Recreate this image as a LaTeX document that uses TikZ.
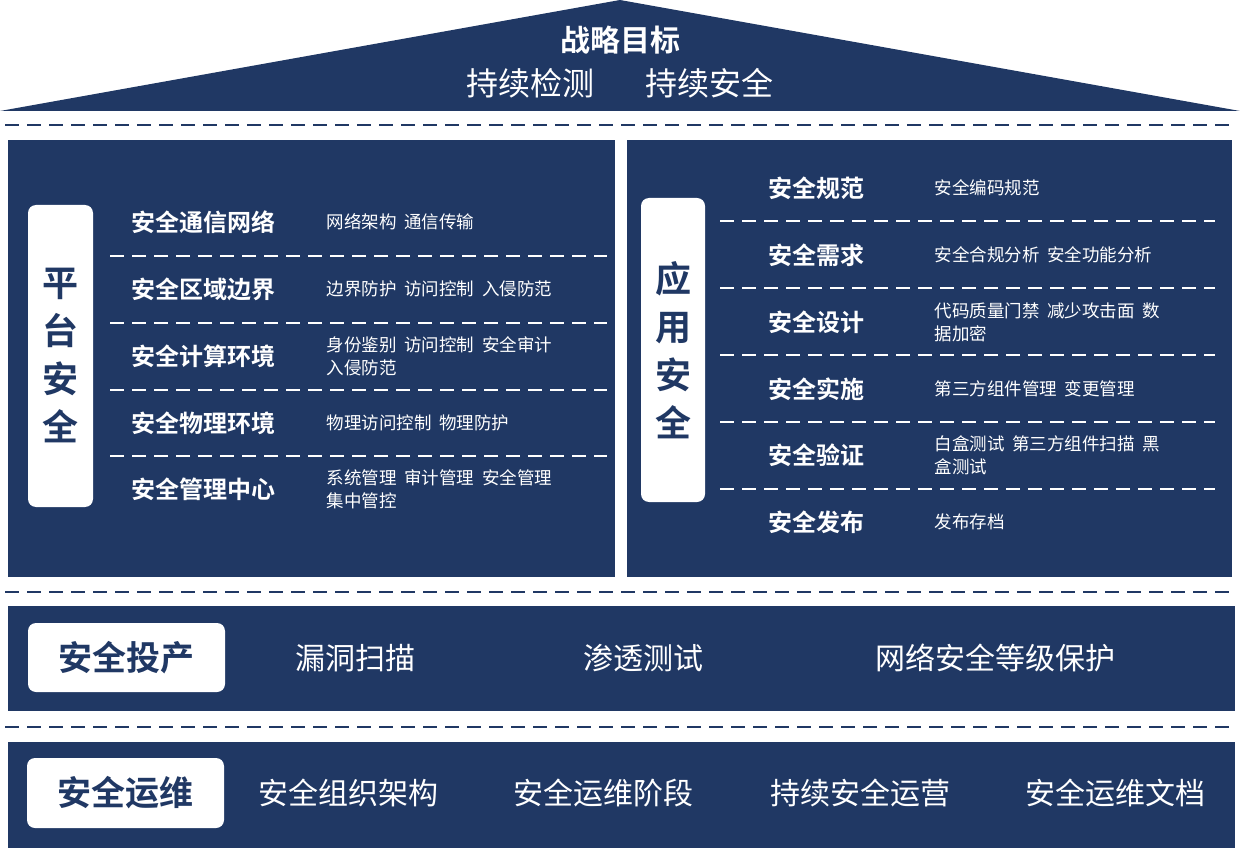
\documentclass[tikz,border=0pt]{standalone}
\usepackage{fontspec}
\setmainfont{Noto Sans CJK SC}[BoldFont={Noto Sans CJK SC Bold}]
\definecolor{navy}{HTML}{203864}
\begin{document}
\begin{tikzpicture}[x=1pt,y=-1pt,
  panel/.style={fill=navy,draw=none},
  lbl/.style={fill=white,rounded corners=8pt,draw=none},
  dsh/.style={line width=2pt,dash pattern=on 14pt off 8pt},
  ttl/.style={anchor=west,text=white,font=\fontsize{24}{28}\selectfont\bfseries},
  det/.style={anchor=west,text=white,align=left,font=\fontsize{17.5}{23}\selectfont},
  big/.style={text=white,font=\fontsize{30}{34}\selectfont},
  vt/.style={text=navy,font=\fontsize{36}{48}\selectfont\bfseries,align=center}]
\useasboundingbox (0,0) rectangle (1240,850);
% roof
\fill[navy] (0,111) -- (620,0) -- (1240,111) -- cycle;
\node[text=white,font=\fontsize{30}{34}\selectfont\bfseries] (goal) at (620,40) {战略目标};
\node[big,font=\fontsize{32}{36}\selectfont] (g2) at (620,83) {持续检测\hspace{1.6em}持续安全};
\coordinate (d1a) at (5,125); \coordinate (d1b) at (1235,125);
\draw[dsh,navy] (d1a) -- (d1b);
% left panel
\fill[panel] (8,140) rectangle (615,577);
\fill[lbl] (28,205) rectangle (93,507);
\node[vt] (pl) at (60.5,356) {平\\台\\安\\全};
\foreach \y/\t/\d in {222/安全通信网络/{网络架构\ \ 通信传输},
  289/安全区域边界/{边界防护\ \ 访问控制\ \ 入侵防范},
  356/安全计算环境/{身份鉴别\ \ 访问控制\ \ 安全审计\\入侵防范},
  423/安全物理环境/{物理访问控制\ \ 物理防护},
  489/安全管理中心/{系统管理\ \ 审计管理\ \ 安全管理\\集中管控}}{
  \node[ttl] (lt\y) at (128,\y) {\t};
  \node[det] (ld\y) at (323,\y) {\d};}
\foreach \y in {256,323,390,456}{
  \coordinate (la\y) at (110,\y); \coordinate (lb\y) at (607,\y);
  \draw[dsh,white] (la\y) -- (lb\y);}
% right panel
\fill[panel] (627,140) rectangle (1232,577);
\fill[lbl] (641,198) rectangle (705,502);
\node[vt] (pr) at (673,350) {应\\用\\安\\全};
\foreach \y/\t/\d in {188/安全规范/{安全编码规范},
  255/安全需求/{安全合规分析\ \ 安全功能分析},
  322/安全设计/{代码质量门禁\ \ 减少攻击面\ \ 数\\据加密},
  389/安全实施/{第三方组件管理\ \ 变更管理},
  455/安全验证/{白盒测试\ \ 第三方组件扫描\ \ 黑\\盒测试},
  522/安全发布/{发布存档}}{
  \node[ttl] (rt\y) at (765,\y) {\t};
  \node[det] (rd\y) at (931,\y) {\d};}
\foreach \y in {221,288,355,422,489}{
  \coordinate (ra\y) at (720,\y); \coordinate (rb\y) at (1215,\y);
  \draw[dsh,white] (ra\y) -- (rb\y);}
% band 3
\coordinate (d2a) at (5,592); \coordinate (d2b) at (1235,592);
\draw[dsh,navy] (d2a) -- (d2b);
\fill[panel] (8,606) rectangle (1235,711);
\fill[lbl] (28,623) rectangle (225,692);
\node[text=navy,font=\fontsize{34}{40}\selectfont\bfseries] (b3) at (126.5,658) {安全投产};
\node[big] (b31) at (355,658) {漏洞扫描};
\node[big] (b32) at (643,658) {渗透测试};
\node[big] (b33) at (995,658) {网络安全等级保护};
% band 4
\coordinate (d3a) at (5,727); \coordinate (d3b) at (1235,727);
\draw[dsh,navy] (d3a) -- (d3b);
\fill[panel] (8,742) rectangle (1235,848);
\fill[lbl] (27,758) rectangle (224,828);
\node[text=navy,font=\fontsize{34}{40}\selectfont\bfseries] (b4) at (125.5,793) {安全运维};
\node[big] (b41) at (348,793) {安全组织架构};
\node[big] (b42) at (603,793) {安全运维阶段};
\node[big] (b43) at (860,793) {持续安全运营};
\node[big] (b44) at (1115,793) {安全运维文档};
\end{tikzpicture}
\end{document}
